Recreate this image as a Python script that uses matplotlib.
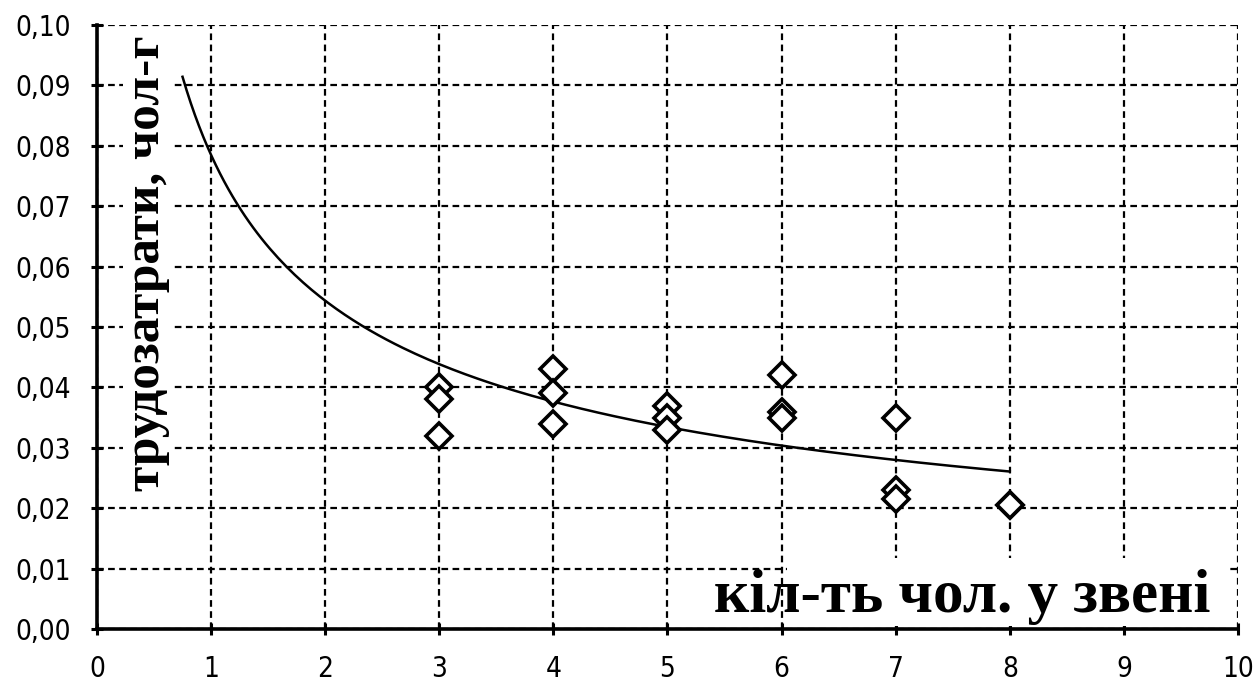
import numpy as np
import matplotlib
matplotlib.use("Agg")
import matplotlib.pyplot as plt
from matplotlib.patches import Rectangle

# Crew size (persons) and measured labour input (person-hours)
crew_size = [3, 3, 3, 4, 4, 4, 5, 5, 5, 6, 6, 6, 7, 7, 7, 8, 8]
labour = [0.040, 0.038, 0.032,
          0.043, 0.039, 0.034,
          0.037, 0.035, 0.033,
          0.042, 0.036, 0.035,
          0.035, 0.023, 0.0215,
          0.0205, 0.0205]

# Power trend line y = a * x^b
trend_a = 0.0785
trend_b = -0.53
trend_x_start = 0.75
trend_x_end = 8.0

x_ticks = list(range(0, 11))
y_ticks = [i / 100 for i in range(0, 11)]
y_tick_labels = [f"{v:.2f}".replace(".", ",") for v in y_ticks]

x_title = "кіл-ть чол. у звені"
y_title = "трудозатрати, чол-г"

fig = plt.figure(figsize=(12.59, 6.91), dpi=100)
ax = fig.add_axes([0.077, 0.0897, 0.9063, 0.8741])

ax.set_xlim(0, 10)
ax.set_ylim(0, 0.10)

ax.grid(True, color="black", linestyle=(0, (3, 2)), linewidth=1.6)
ax.set_axisbelow(True)

# white area behind the x-axis caption
ax.add_patch(Rectangle((6.05, 0.0005), 3.87, 0.0112, facecolor="white",
                       edgecolor="none", zorder=1))

tx = np.linspace(trend_x_start, trend_x_end, 200)
ax.plot(tx, trend_a * tx ** trend_b, color="black", linewidth=1.8, zorder=3)

ax.plot(crew_size, labour, linestyle="none", marker="D", markersize=13,
        markerfacecolor="white", markeredgecolor="black",
        markeredgewidth=2.6, zorder=4)

for side in ("top", "right"):
    ax.spines[side].set_visible(False)
for side in ("left", "bottom"):
    ax.spines[side].set_linewidth(2.6)
    ax.spines[side].set_color("black")

tick_font = {"family": ["DejaVu Sans"], "stretch": "condensed", "size": 20}
ax.set_xticks(x_ticks)
ax.set_xticklabels([str(v) for v in x_ticks], fontdict=tick_font)
ax.set_yticks(y_ticks)
ax.set_yticklabels(y_tick_labels, fontdict=tick_font)
ax.tick_params(axis="both", direction="inout", length=9, width=2.2,
               colors="black")
ax.tick_params(axis="x", pad=14)
ax.tick_params(axis="y", pad=14)

serif = ["Liberation Serif", "DejaVu Serif"]
ax.text(9.76, 0.0028, x_title, ha="right", va="baseline", zorder=5,
        family=serif, fontweight="bold", fontsize=44, color="black")
ax.text(0.44, 0.0605, y_title, rotation=90, ha="center", va="center",
        zorder=5, bbox=dict(facecolor="white", edgecolor="none", pad=1),
        family=serif, fontweight="bold", fontsize=37, color="black")

fig.savefig("out.png", dpi=100, facecolor="white")
